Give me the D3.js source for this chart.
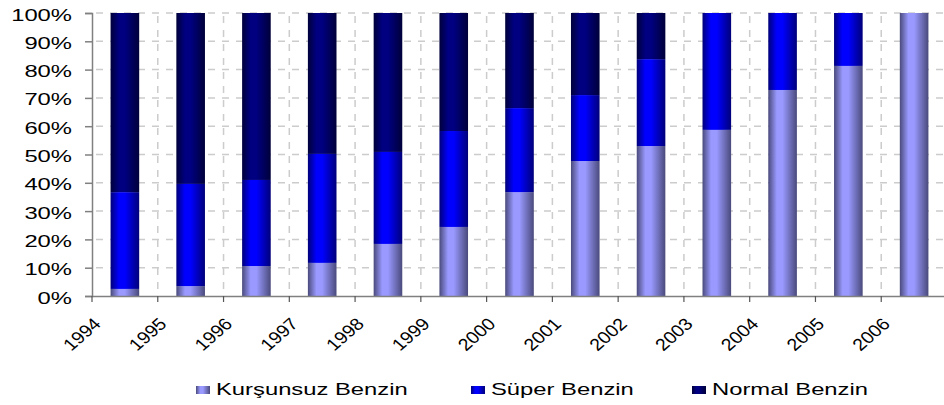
<!DOCTYPE html>
<html>
<head>
<meta charset="utf-8">
<script src="https://cdn.jsdelivr.net/npm/d3@7"></script>
<style>
  body { margin: 0; background: #fff; }
  text { font-family: "Liberation Sans", Arial, sans-serif; fill: #000; }
</style>
</head>
<body>
<script>
// DATA
const years = ["1994","1995","1996","1997","1998","1999","2000","2001","2002","2003","2004","2005","2006"];
const kursunsuz = [2.5, 3.5, 10.6, 11.7, 18.4, 24.4, 36.7, 47.7, 53.0, 58.7, 72.8, 81.3, 100];
const super_ = [34.2, 36.1, 30.4, 38.5, 32.5, 33.9, 29.7, 23.3, 30.7, 41.3, 27.2, 18.7, 0];
const normal = [63.3, 60.4, 59.0, 49.8, 49.1, 41.7, 33.6, 29.0, 16.3, 0, 0, 0, 0];
const seriesNames = ["Kurşunsuz Benzin", "Süper Benzin", "Normal Benzin"];
const yTicks = [0, 10, 20, 30, 40, 50, 60, 70, 80, 90, 100];

// Layout
const width = 944;
const height = 405;
const plot = {left: 92, right: 947, top: 13, bottom: 296};
const colors = ["#9999ff", "#0000ff", "#000080"];
const darks  = ["#4a4a7c", "#00007a", "#00003a"];
const stretch = 1.4;                                  // text in the picture is wide

const svg = d3.select('body')
  .append('svg')
  .attr('width', width)
  .attr('height', height);

// build rows for the stack
const rows = years.map((y, i) => ({year: y, k: kursunsuz[i], s: super_[i], n: normal[i]}));
const stacked = d3.stack().keys(["k", "s", "n"])(rows);

// Scales
const xScale = d3.scaleBand()
  .domain(years)
  .range([plot.left, plot.right])
  .padding(0);

const yScale = d3.scaleLinear()
  .domain([0, 100])
  .range([plot.bottom, plot.top]);

const barW = xScale.bandwidth() * 0.435;

// Gradients (cylinder look)
const defs = svg.append('defs');
colors.forEach((c, i) => {
  const g = defs.append('linearGradient')
    .attr('id', 'grad' + i)
    .attr('x1', '0%').attr('x2', '100%')
    .attr('y1', '0%').attr('y2', '0%');
  g.append('stop').attr('offset', '0%').attr('stop-color', darks[i]);
  g.append('stop').attr('offset', '30%').attr('stop-color', c);
  g.append('stop').attr('offset', '50%').attr('stop-color', c);
  g.append('stop').attr('offset', '100%').attr('stop-color', darks[i]);
});

// Gridlines
svg.append('g')
  .classed('grid y', true)
  .selectAll('line')
  .data(yTicks.filter(d => d > 0))
  .join('line')
  .attr('x1', plot.left + 1)
  .attr('x2', width)
  .attr('y1', d => yScale(d))
  .attr('y2', d => yScale(d))
  .attr('stroke', '#cccccc')
  .attr('stroke-width', 1.5)
  .attr('stroke-dasharray', '7,7')
  .attr('stroke-dashoffset', -3);

svg.append('g')
  .classed('grid x', true)
  .selectAll('line')
  .data(years.slice(1))
  .join('line')
  .attr('x1', d => xScale(d))
  .attr('x2', d => xScale(d))
  .attr('y1', plot.top)
  .attr('y2', plot.bottom)
  .attr('stroke', '#cccccc')
  .attr('stroke-width', 1.5)
  .attr('stroke-dasharray', '7,7')
  .attr('stroke-dashoffset', -3);

// Bars
svg.append('g')
  .classed('bars', true)
  .selectAll('g')
  .data(stacked)
  .join('g')
  .attr('fill', (d, i) => 'url(#grad' + i + ')')
  .selectAll('rect')
  .data(d => d)
  .join('rect')
  .attr('x', d => xScale(d.data.year) + (xScale.bandwidth() - barW) / 2)
  .attr('y', d => yScale(d[1]))
  .attr('width', barW)
  .attr('height', d => yScale(d[0]) - yScale(d[1]));

// Y axis
const yAxis = d3.axisLeft(yScale)
  .tickValues(yTicks)
  .tickSize(7)
  .tickFormat('');
svg.append('g')
  .classed('axis y', true)
  .attr('transform', 'translate(' + plot.left + ',0)')
  .call(yAxis)
  .call(g => g.select('.domain').attr('stroke', '#808080').attr('stroke-width', 1.5))
  .call(g => g.selectAll('.tick line').attr('stroke', '#808080').attr('stroke-width', 1.5));

svg.append('g')
  .classed('labels y', true)
  .selectAll('g')
  .data(yTicks)
  .join('g')
  .attr('transform', d => 'translate(72,' + (yScale(d) + 7.5) + ') scale(' + stretch + ',1)')
  .append('text')
  .attr('text-anchor', 'end')
  .style('font-size', '17px')
  .text(d => d + '%');

// X axis
const xAxis = d3.axisBottom(xScale)
  .tickSize(0)
  .tickFormat('');
svg.append('g')
  .classed('axis x', true)
  .attr('transform', 'translate(0,' + plot.bottom + ')')
  .call(xAxis)
  .call(g => g.select('.domain').attr('stroke', '#808080').attr('stroke-width', 1.5));

svg.append('g')
  .classed('ticks x', true)
  .selectAll('line')
  .data(years)
  .join('line')
  .attr('x1', d => xScale(d))
  .attr('x2', d => xScale(d))
  .attr('y1', plot.bottom)
  .attr('y2', plot.bottom + 6)
  .attr('stroke', '#555')
  .attr('stroke-width', 1.2);

svg.append('g')
  .classed('labels x', true)
  .selectAll('g')
  .data(years)
  .join('g')
  .attr('transform', d => 'translate(' + (xScale(d) + 10) + ',' + (plot.bottom + 29) + ') scale(1.15,1) rotate(-45)')
  .append('text')
  .attr('text-anchor', 'end')
  .style('font-size', '17px')
  .text(d => d);

// Legend
const legendX = [196, 471, 692];
const legend = svg.append('g')
  .classed('legend', true)
  .selectAll('g')
  .data(seriesNames)
  .join('g')
  .attr('transform', (d, i) => 'translate(' + legendX[i] + ',0)');

legend.append('rect')
  .attr('x', 0)
  .attr('y', 386)
  .attr('width', 14)
  .attr('height', 8)
  .attr('fill', (d, i) => 'url(#grad' + i + ')');

legend.append('g')
  .attr('transform', 'translate(' + 20 + ',395) scale(' + stretch + ',1)')
  .append('text')
  .style('font-size', '17px')
  .text(d => d);
</script>
</body>
</html>
